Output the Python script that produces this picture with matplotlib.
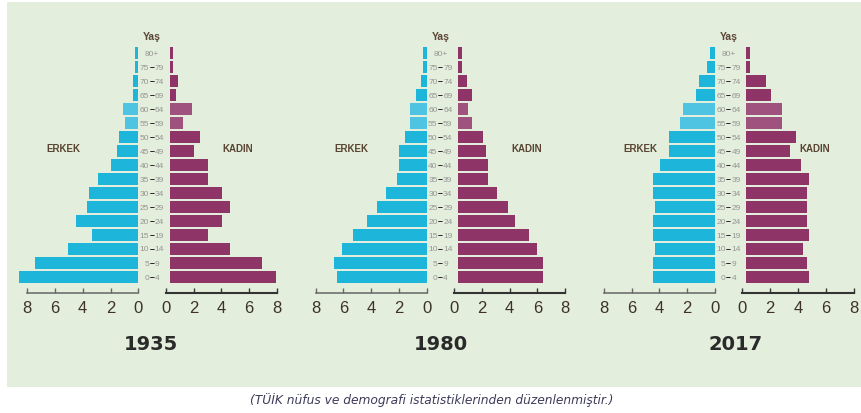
import matplotlib
matplotlib.use('Agg')
import matplotlib.pyplot as plt
from matplotlib.patches import Rectangle

# ---------------- data (bottom row first) ----------------
ages = ['0-4', '5-9', '10-14', '15-19', '20-24', '25-29', '30-34', '35-39',
        '40-44', '45-49', '50-54', '55-59', '60-64', '65-69', '70-74',
        '75-79', '80+']
years = ['1935', '1980', '2017']

male_1935 = [8.6, 7.41, 5.08, 3.33, 4.48, 3.71, 3.52, 2.92, 1.94, 1.55,
             1.37, 0.98, 1.1, 0.36, 0.38, 0.22, 0.22]
female_1935 = [7.63, 6.64, 4.32, 2.76, 3.72, 4.32, 3.72, 2.76, 2.76, 1.75,
               2.16, 0.96, 1.6, 0.41, 0.6, 0.19, 0.19]
male_1980 = [6.47, 6.67, 6.09, 5.3, 4.32, 3.55, 2.95, 2.16, 1.97, 1.97,
             1.58, 1.2, 1.2, 0.79, 0.43, 0.24, 0.24]
female_1980 = [6.09, 6.09, 5.68, 5.08, 4.12, 3.55, 2.78, 2.18, 2.18, 1.99,
               1.77, 1.03, 0.7, 1.03, 0.62, 0.26, 0.26]
male_2017 = [4.48, 4.48, 4.29, 4.48, 4.48, 4.29, 4.48, 4.48, 3.93, 3.33,
             3.33, 2.52, 2.32, 1.34, 1.17, 0.6, 0.38]
female_2017 = [4.5, 4.32, 4.1, 4.5, 4.32, 4.32, 4.32, 4.5, 3.91, 3.12,
               3.53, 2.56, 2.56, 1.8, 1.39, 0.24, 0.24]

tick_values = [0, 2, 4, 6, 8]
tick_labels = ['0', '2', '4', '6', '8']
faded_ages = ['55-59', '60-64']

male_data = [male_1935, male_1980, male_2017]
female_data = [female_1935, female_1980, female_2017]

# ---------------- layout / style ----------------
W, H = 861, 414
UNIT = 13.9                # px per unit on axis
ZEROS = [(138.3, 165.7), (426.7, 454.0), (715.0, 742.3)]
YEAR_X = [151, 441, 736]
AX_BOTTOM, AX_TOP = 294, 40
FEMALE_START = 0.3
MALE_C, FEMALE_C = '#1db6da', '#8e3467'
MALE_FADED, FEMALE_FADED = '#4fc4e2', '#a0527f'
TXT = '#5a4535'
BG = '#e3eedc'
NARROW = ['Liberation Sans', 'DejaVu Sans']

fig = plt.figure(figsize=(W / 100, H / 100), dpi=100)
fig.patch.set_facecolor('white')
bg = Rectangle((7 / W, 1 - 388 / H), (W - 7) / W, (388 - 3) / H,
               transform=fig.transFigure, facecolor=BG, edgecolor='none',
               zorder=-10)
fig.add_artist(bg)

ypos = list(range(len(ages)))
ylim = (-(16 / 14), (278 - AX_TOP) / 14)


def style_axis(ax, spine_color, lw):
    for s in ['top', 'left', 'right']:
        ax.spines[s].set_visible(False)
    ax.spines['bottom'].set_bounds(0, 8)
    ax.spines['bottom'].set_color(spine_color)
    ax.spines['bottom'].set_linewidth(lw)
    ax.set_yticks([])
    ax.set_xticks(tick_values)
    ax.set_xticklabels(tick_labels, fontfamily=NARROW)
    ax.tick_params(axis='x', direction='in', length=3.5, width=1,
                   color=spine_color, labelsize=12, labelcolor='#3e3229',
                   pad=5)
    ax.set_ylim(*ylim)
    ax.patch.set_visible(False)


for k, (L0, R0) in enumerate(ZEROS):
    axh = (AX_BOTTOM - AX_TOP) / H
    axb = 1 - AX_BOTTOM / H
    axL = fig.add_axes([(L0 - 9 * UNIT) / W, axb, 9 * UNIT / W, axh])
    axR = fig.add_axes([R0 / W, axb, 9 * UNIT / W, axh])
    axL.set_xlim(9, 0)
    axR.set_xlim(0, 9)

    mcols = [MALE_FADED if a in faded_ages else MALE_C for a in ages]
    fcols = [FEMALE_FADED if a in faded_ages else FEMALE_C for a in ages]
    axL.barh(ypos, male_data[k], height=0.8, color=mcols, zorder=2)
    axR.barh(ypos, female_data[k], left=FEMALE_START, height=0.8,
             color=fcols, zorder=2)

    style_axis(axL, '#666666', 1.1)
    style_axis(axR, '#333333', 1.5)

    # age labels in the middle column
    xc = -(R0 - L0) / (2 * UNIT)
    for i, a in enumerate(ages):
        if '-' in a:
            lo, hi = a.split('-')
            axL.annotate(lo, xy=(xc, i), xytext=(-2.0, 0),
                         textcoords='offset points', ha='right', va='center',
                         fontsize=6, color='#959595', family=NARROW,
                         annotation_clip=False)
            axL.annotate('\u2013', xy=(xc, i), xytext=(0, 0.2),
                         textcoords='offset points', ha='center', va='center',
                         fontsize=6.3, color='#111111', fontweight='bold',
                         family=NARROW, annotation_clip=False)
            axL.annotate(hi, xy=(xc, i), xytext=(2.0, 0),
                         textcoords='offset points', ha='left', va='center',
                         fontsize=6, color='#959595', family=NARROW,
                         annotation_clip=False)
        else:
            axL.text(xc, i, a, ha='center', va='center', fontsize=6,
                     color='#959595', family=NARROW, clip_on=False)
    axL.text(xc, (278 - 37) / 14, 'Yaş', ha='center', va='center',
             fontsize=7.5, color=TXT, family=NARROW, fontweight='bold',
             clip_on=False)
    axL.text(5.4, 9.2, 'ERKEK', ha='center', va='center', fontsize=7,
             color=TXT, family=NARROW, fontweight='bold', clip_on=False)
    axR.text(5.2, 9.2, 'KADIN', ha='center', va='center', fontsize=7,
             color=TXT, family=NARROW, fontweight='bold', clip_on=False)

    fig.text(YEAR_X[k] / W, 1 - 345 / H, years[k], ha='center', va='center',
             fontsize=14, fontweight='bold', color='#2a2a2a')

fig.text(432 / W, 1 - 400 / H,
         '(TÜİK nüfus ve demografi istatistiklerinden düzenlenmiştir.)',
         ha='center', va='center', fontsize=8.8, style='italic',
         color='#3c3c5a')

fig.savefig('out.png', dpi=100, facecolor='white')
